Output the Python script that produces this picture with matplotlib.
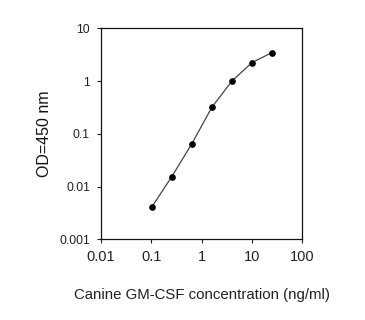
import matplotlib
matplotlib.use("Agg")
import matplotlib.pyplot as plt
from matplotlib.ticker import FixedLocator, FixedFormatter, NullLocator

plt.rcParams['font.family'] = ['Liberation Sans', 'DejaVu Sans']

conc = [0.1024, 0.256, 0.64, 1.6, 4, 10, 25]
od = [0.0041, 0.0155, 0.065, 0.32, 1.0, 2.24, 3.46]
xticks = [0.01, 0.1, 1, 10, 100]
xticklabels = ["0.01", "0.1", "1", "10", "100"]
yticks = [0.001, 0.01, 0.1, 1, 10]
yticklabels = ["0.001", "0.01", "0.1", "1", "10"]

W, H = 365, 320
fig = plt.figure(figsize=(W / 100, H / 100), dpi=100)
ax = fig.add_axes([101 / W, 1 - 239.3 / H, (302.3 - 101) / W, (239.3 - 28.3) / H])

ax.plot(conc, od, color='#444444', lw=0.9, marker='o', ms=3.8,
        mfc='black', mec='black')
ax.set_xscale('log')
ax.set_yscale('log')
ax.set_xlim(0.01, 100)
ax.set_ylim(0.001, 10)
ax.xaxis.set_major_locator(FixedLocator(xticks))
ax.xaxis.set_major_formatter(FixedFormatter(xticklabels))
ax.yaxis.set_major_locator(FixedLocator(yticks))
ax.yaxis.set_major_formatter(FixedFormatter(yticklabels))
ax.xaxis.set_minor_locator(NullLocator())
ax.yaxis.set_minor_locator(NullLocator())
ax.tick_params(axis='both', direction='out', length=3, width=0.8,
               colors='#222222')
ax.tick_params(axis='y', labelsize=8.7, pad=5)
ax.tick_params(axis='x', labelsize=10.5, pad=5)
for s in ax.spines.values():
    s.set_linewidth(0.9)
    s.set_color('#111111')

ax.set_xlabel("Canine GM-CSF concentration (ng/ml)", fontsize=10.8,
              color='#222222', labelpad=17)
ax.set_ylabel("OD=450 nm", fontsize=11.5, color='#111111', labelpad=5)

fig.savefig("out.png", dpi=100)
